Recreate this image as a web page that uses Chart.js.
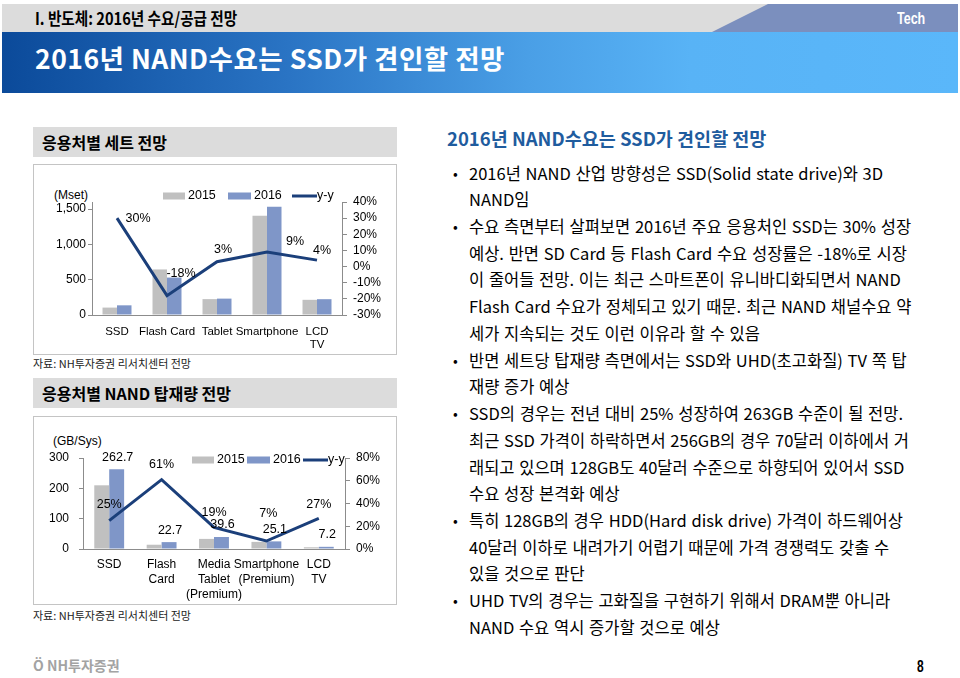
<!DOCTYPE html>
<html>
<head>
<meta charset="utf-8">
<script src="https://cdn.jsdelivr.net/npm/chart.js@4.4.0/dist/chart.umd.min.js"></script>
<style>
  body { margin: 0; width: 960px; height: 678px; position: relative; overflow: hidden; background: #fff;
         font-family: "Noto Sans CJK KR", "Noto Sans", sans-serif; color: #000; }
  .abs { position: absolute; }
  #topbar { left: 2px; top: 4px; width: 956px; height: 28px; background: #dcdcdc; }
  #tab { left: 712px; top: 4px; width: 246px; height: 28px; background: #7b8fbe;
         clip-path: polygon(56px 0, 246px 0, 246px 28px, 0 28px); }
  #band { left: 2px; top: 32px; width: 956px; height: 61px;
          background: linear-gradient(to right, #0b4a9a 0%, #2a74c4 30%, #4a9fe6 55%, #58b3f6 72%, #5ab7fa 100%); }
  .cond { transform-origin: left center; white-space: nowrap; }
  .head { left: 33px; width: 364px; height: 30px; background: #dcdcdc; }
  .head span { position: absolute; left: 9px; top: 50%; transform: translateY(-52%); font-weight: 700; font-size: 16px; white-space: nowrap; }
  .box { left: 33px; width: 362px; border: 1px solid #c4c4c4; }
  .src { left: 33px; font-size: 11px; color: #222; white-space: nowrap; }
  .unit { font-family: "Liberation Sans", Arial, sans-serif; font-size: 12px; white-space: nowrap; }
  #body { left: 469px; top: 159.6px; line-height: 26.72px; font-size: 16.5px; word-spacing: 1px; }
  #body div { position: relative; white-space: nowrap; }
  #body .b::before { content: "•"; position: absolute; left: -16px; top: 0; font-size: 14px; }
</style>
</head>
<body>
<div id="topbar" class="abs"></div>
<div id="tab" class="abs"></div>
<div class="abs cond" style="left:35px;top:6px;font-size:17px;font-weight:700;line-height:24px;transform:scaleX(0.86);">I. 반도체: 2016년 수요/공급 전망</div>
<div class="abs cond" style="left:897px;top:7px;font-size:16px;font-weight:700;color:#fff;line-height:24px;font-family:'Liberation Sans',Arial,sans-serif;transform:scaleX(0.78);">Tech</div>
<div id="band" class="abs"></div>
<div class="abs" style="left:35px;top:41px;font-size:26.5px;font-weight:700;color:#fff;line-height:34px;white-space:nowrap;letter-spacing:0.5px;">2016년 NAND수요는 SSD가 견인할 전망</div>

<div class="abs head" style="top:127px;"><span>응용처별 세트 전망</span></div>
<div class="abs box" style="top:164px;height:189px;"></div>
<div class="abs unit" style="left:54px;top:188px;">(Mset)</div>
<div class="abs" style="left:34px;top:165px;width:362px;height:189px;"><canvas id="setChart" width="362" height="189"></canvas></div>
<div class="abs src" style="top:355px;">자료: NH투자증권 리서치센터 전망</div>

<div class="abs head" style="top:378px;"><span>응용처별 NAND 탑재량 전망</span></div>
<div class="abs box" style="top:416px;height:187px;"></div>
<div class="abs unit" style="left:53px;top:434px;">(GB/Sys)</div>
<div class="abs" style="left:34px;top:417px;width:362px;height:187px;"><canvas id="nandChart" width="362" height="187"></canvas></div>
<div class="abs src" style="top:607px;">자료: NH투자증권 리서치센터 전망</div>

<div class="abs" style="left:447px;top:124px;font-size:18.5px;font-weight:700;color:#1f5c9e;white-space:nowrap;line-height:28px;">2016년 NAND수요는 SSD가 견인할 전망</div>
<div id="body" class="abs">
  <div class="b">2016년 NAND 산업 방향성은 SSD(Solid state drive)와 3D</div>
  <div>NAND임</div>
  <div class="b">수요 측면부터 살펴보면 2016년 주요 응용처인 SSD는 30% 성장</div>
  <div>예상. 반면 SD Card 등 Flash Card 수요 성장률은 -18%로 시장</div>
  <div>이 줄어들 전망. 이는 최근 스마트폰이 유니바디화되면서 NAND</div>
  <div>Flash Card 수요가 정체되고 있기 때문. 최근 NAND 채널수요 약</div>
  <div>세가 지속되는 것도 이런 이유라 할 수 있음</div>
  <div class="b">반면 세트당 탑재량 측면에서는 SSD와 UHD(초고화질) TV 쪽 탑</div>
  <div>재량 증가 예상</div>
  <div class="b">SSD의 경우는 전년 대비 25% 성장하여 263GB 수준이 될 전망.</div>
  <div>최근 SSD 가격이 하락하면서 256GB의 경우 70달러 이하에서 거</div>
  <div>래되고 있으며 128GB도 40달러 수준으로 하향되어 있어서 SSD</div>
  <div>수요 성장 본격화 예상</div>
  <div class="b">특히 128GB의 경우 HDD(Hard disk drive) 가격이 하드웨어상</div>
  <div>40달러 이하로 내려가기 어렵기 때문에 가격 경쟁력도 갖출 수</div>
  <div>있을 것으로 판단</div>
  <div class="b">UHD TV의 경우는 고화질을 구현하기 위해서 DRAM뿐 아니라</div>
  <div>NAND 수요 역시 증가할 것으로 예상</div>
</div>

<div class="abs" style="left:33px;top:656px;font-size:14px;font-weight:700;color:#a3a3a3;white-space:nowrap;line-height:18px;">Ö NH투자증권</div>
<div class="abs cond" style="left:917px;top:657px;font-size:16px;font-weight:700;line-height:20px;font-family:'Liberation Sans',Arial,sans-serif;transform:scaleX(0.75);">8</div>

<script>
// 응용처별 세트 전망 (Mset)
const setCategories = ['SSD', 'Flash Card', 'Tablet', 'Smartphone', ['LCD', 'TV']];
const set2015 = [105, 645, 225, 1405, 215];
const set2016 = [137, 530, 232, 1533, 224];
const setYoY = [30, -18, 3, 9, 4];
const setLeftTicks = [0, 500, 1000, 1500];

// 응용처별 NAND 탑재량 전망 (GB/Sys)
const nandCategories = ['SSD', ['Flash', 'Card'], ['Media', 'Tablet', '(Premium)'], ['Smartphone', '(Premium)'], ['LCD', 'TV']];
const nand2015 = [210, 14.1, 33.3, 23.5, 5.7];
const nand2016 = [262.7, 22.7, 39.6, 25.1, 7.2];
const nandYoY = [25, 61, 19, 7, 27];

const seriesLabels = ['2015', '2016', 'y-y'];

const GRAY = '#c0c0c0';
const BLUE = '#7f96c8';
const NAVY = '#1b3f7a';
const AXIS = '#8c8c8c';
const FONT = "'Liberation Sans', Arial, sans-serif";

// 라벨과 범례를 직접 그리는 플러그인
const annotPlugin = {
    id: 'annot',
    afterDatasetsDraw(chart, args, opts) {
        const ctx = chart.ctx;
        ctx.save();
        ctx.fillStyle = '#000';
        ctx.font = `${opts.fontSize}px ${FONT}`;
        ctx.textAlign = 'center';
        ctx.textBaseline = 'middle';

        // y-y 라벨
        const lineMeta = chart.getDatasetMeta(2);
        lineMeta.data.forEach((pt, i) => {
            const off = opts.lineOffsets[i];
            ctx.fillText(chart.data.datasets[2].data[i] + '%', pt.x + off[0], pt.y + off[1]);
        });

        // 2016 막대 값
        if (opts.barLabels) {
            const barMeta = chart.getDatasetMeta(1);
            barMeta.data.forEach((bar, i) => {
                ctx.fillText(chart.data.datasets[1].data[i].toFixed(1), bar.x + 1, bar.y - 12);
            });
        }

        // 범례
        const lg = opts.legend;
        ctx.textAlign = 'left';
        ctx.fillStyle = GRAY;
        ctx.fillRect(lg.sw1, lg.y - 3.5, 22, 7);
        ctx.fillStyle = BLUE;
        ctx.fillRect(lg.sw2, lg.y - 3.5, 23, 7);
        ctx.strokeStyle = NAVY;
        ctx.lineWidth = 3;
        ctx.beginPath();
        ctx.moveTo(lg.ln, lg.y);
        ctx.lineTo(lg.ln + 25, lg.y);
        ctx.stroke();
        ctx.fillStyle = '#000';
        ctx.fillText(seriesLabels[0], lg.sw1 + 25, lg.y);
        ctx.fillText(seriesLabels[1], lg.sw2 + 26, lg.y);
        ctx.fillText(seriesLabels[2], lg.ln + 25, lg.y);
        ctx.restore();
    }
};

function buildChart(id, cfg) {
    const ctx = document.getElementById(id).getContext('2d');
    return new Chart(ctx, {
        type: 'bar',
        data: {
            labels: cfg.labels,
            datasets: [
                { type: 'bar', label: seriesLabels[0], data: cfg.a, backgroundColor: GRAY, yAxisID: 'y',
                  categoryPercentage: cfg.catPct, barPercentage: 1, order: 1 },
                { type: 'bar', label: seriesLabels[1], data: cfg.b, backgroundColor: BLUE, yAxisID: 'y',
                  categoryPercentage: cfg.catPct, barPercentage: 1, order: 1 },
                { type: 'line', label: seriesLabels[2], data: cfg.yoy, borderColor: NAVY, borderWidth: 3,
                  pointRadius: 0, tension: 0, yAxisID: 'y1', order: 0 }
            ]
        },
        options: {
            responsive: false,
            animation: false,
            layout: { padding: { top: cfg.top, left: 0, right: 0, bottom: 0 } },
            plugins: {
                legend: { display: false },
                tooltip: { enabled: false },
                annot: cfg.annot
            },
            scales: {
                x: {
                    grid: { display: false, drawTicks: false },
                    border: { display: true, color: AXIS },
                    ticks: { color: '#000', font: { family: FONT, size: cfg.xFont, lineHeight: cfg.xLine },
                             padding: cfg.xPad, maxRotation: 0, autoSkip: false },
                    afterFit: s => { s.height = cfg.xH; }
                },
                y: {
                    position: 'left',
                    min: cfg.yMin, max: cfg.yMax,
                    afterBuildTicks: s => { s.ticks = cfg.yTicks.map(v => ({ value: v })); },
                    ticks: { color: '#000', font: { family: FONT, size: 12 }, padding: cfg.yPad,
                             autoSkip: false, callback: v => v.toLocaleString('en-US') },
                    grid: { drawOnChartArea: false, tickLength: 4, color: AXIS },
                    border: { color: AXIS },
                    afterFit: s => { s.width = cfg.yW; }
                },
                y1: {
                    position: 'right',
                    min: cfg.y1Min, max: cfg.y1Max,
                    ticks: { stepSize: cfg.y1Step, color: '#000', font: { family: FONT, size: 12 }, padding: 6,
                             autoSkip: false, callback: v => v + '%' },
                    grid: { drawOnChartArea: false, tickLength: 5, color: AXIS },
                    border: { color: AXIS },
                    afterFit: s => { s.width = cfg.y1W; }
                }
            }
        },
        plugins: [annotPlugin]
    });
}

buildChart('setChart', {
    labels: setCategories, a: set2015, b: set2016, yoy: setYoY,
    catPct: 0.58, top: 37,
    xFont: 11.5, xLine: 1.13, xPad: 10, xH: 39,
    yMin: 0, yMax: 1600, yTicks: setLeftTicks, yPad: 2, yW: 58,
    y1Min: -30, y1Max: 40, y1Step: 10, y1W: 54,
    annot: {
        fontSize: 12.5,
        lineOffsets: [[21, 0], [14, -22], [6, -12], [28, -10], [5, -10]],
        barLabels: false,
        legend: { y: 31, sw1: 129, sw2: 194, ln: 258 }
    }
});

buildChart('nandChart', {
    labels: nandCategories, a: nand2015, b: nand2016, yoy: nandYoY,
    catPct: 0.57, top: 41,
    xFont: 12, xLine: 1.25, xPad: 8, xH: 55,
    yMin: 0, yMax: 300, yTicks: [0, 100, 200, 300], yPad: 10, yW: 49,
    y1Min: 0, y1Max: 80, y1Step: 20, y1W: 51,
    annot: {
        fontSize: 12.5,
        lineOffsets: [[0, -16], [0, -15], [0, -15], [2, -27], [0, -14]],
        barLabels: true,
        legend: { y: 43, sw1: 158, sw2: 213, ln: 269 }
    }
});
</script>
</body>
</html>
